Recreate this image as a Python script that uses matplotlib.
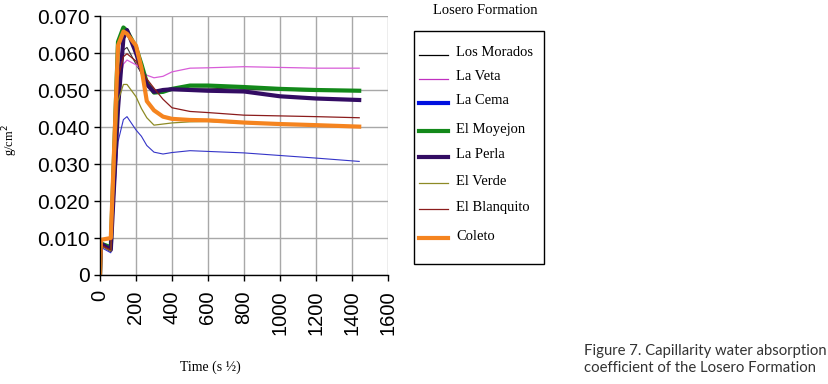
import matplotlib
matplotlib.use("Agg")
import matplotlib.pyplot as plt
from matplotlib.lines import Line2D
from matplotlib.patches import Rectangle
from matplotlib.ticker import FuncFormatter

# time axis (s 1/2) and absorbed water (g/cm2) for each sample
time = [0, 5, 60, 100, 130, 150, 200, 230, 260, 300, 350, 400, 500, 600, 800, 1000, 1200, 1440]

los_morados = [0, 0.0085, 0.0065, 0.055, 0.0608, 0.0615, 0.057, 0.0545, 0.0515, 0.0497, 0.0500, 0.0503, 0.0505, 0.0505, 0.0502, 0.0500, 0.0497, 0.0496]
la_veta = [0, 0.0080, 0.0065, 0.050, 0.0570, 0.0581, 0.0568, 0.0556, 0.0540, 0.0533, 0.0537, 0.0549, 0.0559, 0.0560, 0.0563, 0.0561, 0.0559, 0.0559]
la_cema = [0, 0.0075, 0.0060, 0.036, 0.0420, 0.0428, 0.0392, 0.0375, 0.0350, 0.0332, 0.0327, 0.0331, 0.0336, 0.0334, 0.0330, 0.0323, 0.0316, 0.0307]
el_moyejon = [0, 0.0085, 0.0075, 0.063, 0.0669, 0.0660, 0.0615, 0.0570, 0.0520, 0.0493, 0.0495, 0.0503, 0.0512, 0.0512, 0.0508, 0.0503, 0.0500, 0.0498]
la_perla = [0, 0.0085, 0.0068, 0.045, 0.0640, 0.0662, 0.0600, 0.0555, 0.0515, 0.0495, 0.0500, 0.0502, 0.0500, 0.0498, 0.0496, 0.0483, 0.0477, 0.0473]
el_verde = [0, 0.0080, 0.0065, 0.047, 0.0515, 0.0515, 0.0482, 0.0450, 0.0425, 0.0405, 0.0408, 0.0411, 0.0414, 0.0415, 0.0410, 0.0406, 0.0404, 0.0401]
el_blanquito = [0, 0.0080, 0.0068, 0.053, 0.0590, 0.0598, 0.0578, 0.0555, 0.0530, 0.0505, 0.0475, 0.0452, 0.0442, 0.0439, 0.0432, 0.0430, 0.0428, 0.0425]
coleto = [0, 0.0095, 0.0100, 0.062, 0.0658, 0.0652, 0.0620, 0.0560, 0.0470, 0.0445, 0.0428, 0.0422, 0.0419, 0.0418, 0.0412, 0.0408, 0.0405, 0.0401]

names = ["Los Morados", "La Veta", "La Cema", "El Moyejon", "La Perla", "El Verde", "El Blanquito", "Coleto"]
series = [los_morados, la_veta, la_cema, el_moyejon, la_perla, el_verde, el_blanquito, coleto]
# plot colour, plot width, legend colour, legend width
styles = [
    ("#333333", 0.8, "#000000", 0.9),
    ("#d85cd8", 0.9, "#c030c0", 0.9),
    ("#3535c8", 0.8, "#0010e0", 3.0),
    ("#13891a", 3.0, "#13891a", 3.0),
    ("#330c63", 3.0, "#330c63", 3.0),
    ("#8d8a25", 0.9, "#8d8a25", 0.9),
    ("#8b1c1c", 0.9, "#8b1c1c", 0.9),
    ("#f5841f", 3.0, "#f5841f", 3.0),
]

fig = plt.figure(figsize=(8.29, 3.84), dpi=100)
ax = fig.add_axes([100/829, 1-275/384, 288/829, 259/384])

for vals, (c, lw, _, _) in zip(series, styles):
    ax.plot(time, vals, color=c, lw=lw)

ax.set_xlim(0, 1600)
ax.set_ylim(0, 0.070)
ax.set_xticks(range(0, 1601, 200))
ax.set_yticks([i * 0.01 for i in range(8)])
ax.yaxis.set_major_formatter(FuncFormatter(lambda v, p: "0" if abs(v) < 1e-9 else f"{v:.3f}"))
ax.grid(True, color="#a8a8a8", lw=1)
ax.set_axisbelow(True)
for s in ["top", "right"]:
    ax.spines[s].set_visible(False)
for s in ["left", "bottom"]:
    ax.spines[s].set_color("black")
    ax.spines[s].set_linewidth(1)
ax.tick_params(direction="out", length=4, width=1, color="black")
ax.tick_params(axis="x", pad=7)
for lab in ax.get_yticklabels():
    lab.set_fontfamily("Liberation Sans")
    lab.set_fontsize(15)
for lab in ax.get_xticklabels():
    lab.set_fontfamily("Liberation Sans")
    lab.set_fontsize(14.5)
    lab.set_rotation(90)

fig.text(10/829, 1-140/384, "g/cm$^2$", rotation=90, ha="center", va="center",
         family="Liberation Serif", fontsize=9)
fig.text(210/829, 1-367/384, "Time (s ½)", ha="center", va="center",
         family="Liberation Serif", fontsize=10)

# legend
fig.text(485/829, 1-11/384, "Losero Formation", ha="center", va="center",
         family="Liberation Serif", fontsize=10.5)
fig.patches.append(Rectangle((414/829, 1-264/384), 130/829, 233/384, transform=fig.transFigure,
                             fill=False, edgecolor="black", lw=1))
rows = [53, 77, 101, 129, 155, 181, 207, 236]
for name, (_, _, lc, lw), y in zip(names, styles, rows):
    fig.add_artist(Line2D([419/829, 448/829], [1-(y+2)/384]*2, color=lc, lw=lw, transform=fig.transFigure))
    fig.text(456/829, 1-y/384, name, ha="left", va="center", family="Liberation Serif", fontsize=10.5)

fig.text(584/829, 1-351/384, "Figure 7. Capillarity water absorption", ha="left", va="center",
         family="Lato", fontsize=10.7, color="#333333")
fig.text(584/829, 1-368/384, "coefficient of the Losero Formation", ha="left", va="center",
         family="Lato", fontsize=10.7, color="#333333")

fig.savefig("out.png", dpi=100)
